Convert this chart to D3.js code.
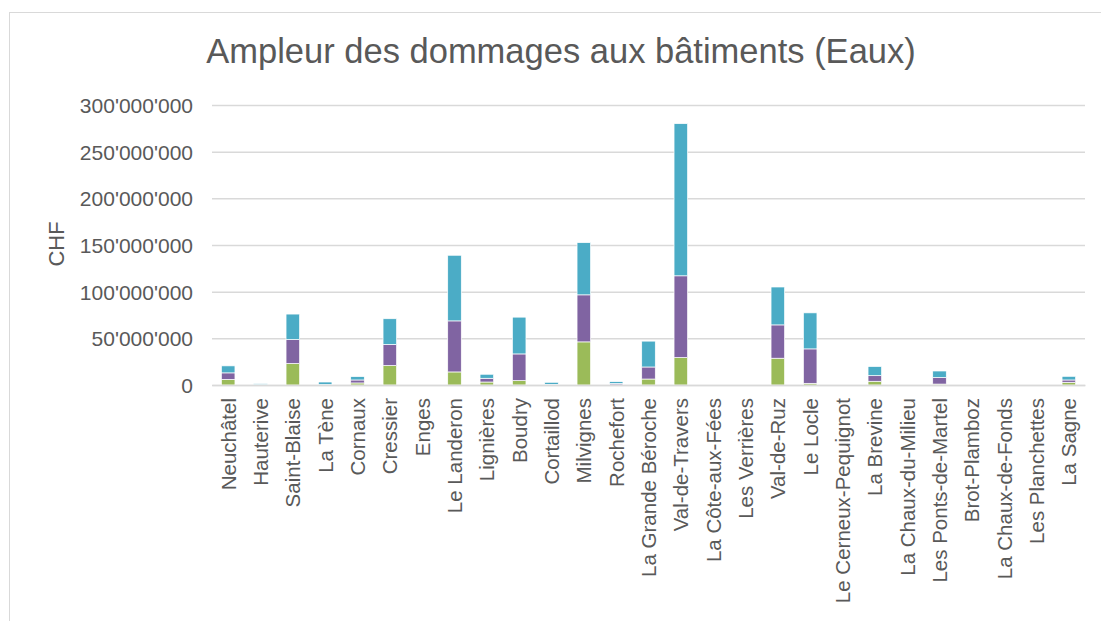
<!DOCTYPE html>
<meta charset="utf-8">
<style>
  body { margin: 0; background: #fff; }
  text { font-family: "Liberation Sans", Arial, sans-serif; fill: #595959; }
</style>
<svg width="1101" height="621"></svg>
<script src="https://d3js.org/d3.v7.min.js"></script>
<script>

var communes = ["Neuchâtel", "Hauterive", "Saint-Blaise", "La Tène", "Cornaux", "Cressier", "Enges",
  "Le Landeron", "Lignières", "Boudry", "Cortaillod", "Milvignes", "Rochefort", "La Grande Béroche",
  "Val-de-Travers", "La Côte-aux-Fées", "Les Verrières", "Val-de-Ruz", "Le Locle", "Le Cerneux-Pequignot",
  "La Brevine", "La Chaux-du-Milieu", "Les Ponts-de-Martel", "Brot-Plamboz", "La Chaux-de-Fonds",
  "Les Planchettes", "La Sagne"];

// values in millions CHF
var serieVert   = [6, 0.2, 23, 0.2, 2.2, 20.8, 0, 14, 3.2, 4.7, 0.3, 46.2, 0.2, 6.4, 29.4, 0, 0, 28.7, 1.8, 0, 4, 0, 1, 0, 0, 0, 2.9];
var serieViolet = [7, 0.2, 25.7, 0.3, 3.2, 22.6, 0, 54.7, 4, 28.6, 0.4, 50.4, 1.4, 12.9, 87.6, 0, 0, 35.7, 36.9, 0, 6, 0, 7, 0, 0, 0, 2.5];
var serieBleu   = [7.5, 1, 27.3, 2.7, 3.6, 27.6, 0, 70.3, 4.3, 39.4, 2.2, 55.9, 2, 27.7, 163, 0, 0, 40.6, 38.6, 0, 9.8, 0, 7, 0, 0, 0, 3.9];

var yTicks = [0, 50e6, 100e6, 150e6, 200e6, 250e6, 300e6];

var keys = ["vert", "violet", "bleu"];
var couleurs = {vert: "#9bbb59", violet: "#8064a2", bleu: "#4bacc6"};

var data = communes.map(function(c, i) {
  return {commune: c, vert: serieVert[i] * 1e6, violet: serieViolet[i] * 1e6, bleu: serieBleu[i] * 1e6};
});

var svg = d3.select("svg"),
    plotLeft = 212, plotRight = 1085, plotTop = 105, plotBottom = 385;

// chart frame
svg.append("rect")
    .attr("x", 9.5).attr("y", 12.5)
    .attr("width", 1200).attr("height", 700)
    .attr("fill", "none").attr("stroke", "#d9d9d9");

var x = d3.scaleBand()
    .domain(communes)
    .range([plotLeft, plotRight])
    .paddingInner(0.58)
    .paddingOuter(0.29);

var y = d3.scaleLinear()
    .domain([0, 300e6])
    .range([plotBottom, plotTop]);

var fmt = function(d) { return d3.format(",")(d).replace(/,/g, "'"); };

// gridlines + y labels
var yAxis = svg.append("g")
    .attr("transform", "translate(" + plotLeft + ",0)")
    .call(d3.axisLeft(y).tickValues(yTicks).tickSize(-(plotRight - plotLeft)).tickPadding(19).tickFormat(fmt));
yAxis.select(".domain").remove();
yAxis.selectAll(".tick line").attr("stroke", "#d9d9d9").attr("stroke-width", 1.5);
yAxis.selectAll(".tick text")
    .attr("fill", "#595959")
    .style("font-size", "21px")
    .attr("dy", "0.36em");

var stack = d3.stack().keys(keys)(data);

svg.append("g")
  .selectAll("g")
  .data(stack)
  .join("g")
    .attr("fill", function(d) { return couleurs[d.key]; })
  .selectAll("rect")
  .data(function(d) { return d; })
  .join("rect")
    .attr("x", function(d) { return x(d.data.commune); })
    .attr("y", function(d) { return y(d[1]); })
    .attr("height", function(d) { return y(d[0]) - y(d[1]); })
    .attr("width", x.bandwidth())
    .attr("stroke", "#fff")
    .attr("stroke-width", 0.7);

// x labels
var xAxis = svg.append("g")
    .attr("transform", "translate(0," + plotBottom + ")")
    .call(d3.axisBottom(x).tickSize(0).tickPadding(0));
xAxis.select(".domain").attr("stroke", "#d9d9d9").attr("stroke-width", 1.5);
xAxis.selectAll(".tick text")
    .attr("fill", "#595959")
    .style("font-size", "20.5px")
    .attr("text-anchor", "end")
    .attr("transform", "rotate(-90)")
    .attr("x", -13)
    .attr("y", 0)
    .attr("dy", "0.36em");

svg.append("text")
    .attr("x", 561)
    .attr("y", 63)
    .attr("text-anchor", "middle")
    .style("font-size", "34.5px")
    .text("Ampleur des dommages aux bâtiments (Eaux)");

svg.append("text")
    .attr("transform", "translate(64,244) rotate(-90)")
    .attr("text-anchor", "middle")
    .style("font-size", "22px")
    .text("CHF");

</script>
